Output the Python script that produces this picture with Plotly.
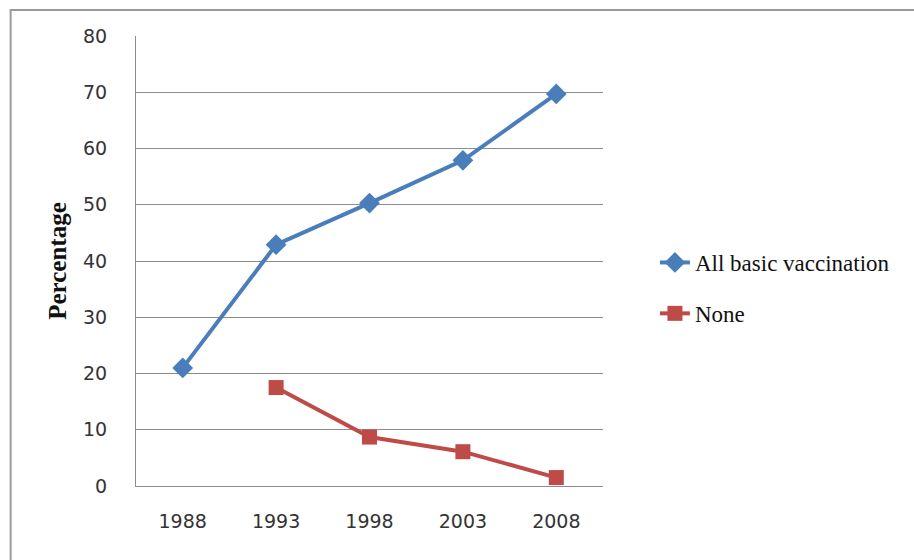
import plotly.graph_objects as go

# Survey years and vaccination coverage (%)
years = ["1988", "1993", "1998", "2003", "2008"]
all_basic = [21.0, 42.9, 50.3, 57.9, 69.7]
none_years = ["1993", "1998", "2003", "2008"]
none_vals = [17.5, 8.7, 6.1, 1.5]
y_ticks = [0, 10, 20, 30, 40, 50, 60, 70, 80]

BLUE = "#4a7ebb"
RED = "#be4b48"
GRID = "#8c8c8c"

fig = go.Figure()
fig.add_trace(go.Scatter(
    x=years, y=all_basic, name="All basic vaccination", mode="lines+markers",
    line=dict(color=BLUE, width=4),
    marker=dict(symbol="diamond", size=16, color=BLUE),
    legendgroup="a",
))
fig.add_trace(go.Scatter(
    x=none_years, y=none_vals, name="None", mode="lines+markers",
    line=dict(color=RED, width=4),
    marker=dict(symbol="square", size=15, color=RED),
    legendgroup="b",
))

# plot area in pixels
L, R, T, B = 135.5, 603, 36, 486
W, H = 914, 560
pw, ph = R - L, B - T

def px_x(x):
    return (x - L) / pw

def px_y(y):
    return (B - y) / ph

fig.update_layout(
    width=W, height=H,
    margin=dict(l=L, r=W - R, t=T, b=H - B, pad=0),
    paper_bgcolor="white", plot_bgcolor="white",
    showlegend=True,
    legend=dict(
        x=px_x(655), y=px_y(241), xanchor="left", yanchor="top",
        font=dict(family="Liberation Serif", size=23, color="#111"),
        tracegroupgap=18, itemwidth=30,
        bgcolor="rgba(0,0,0,0)",
    ),
    xaxis=dict(
        type="category", categoryorder="array", categoryarray=years,
        range=[-0.5, 4.5],
        showgrid=False, showline=True, linecolor=GRID, linewidth=1,
        ticks="", ticklabelstandoff=18,
        tickfont=dict(family="DejaVu Sans", size=19, color="#333"),
        zeroline=False, fixedrange=True,
    ),
    yaxis=dict(
        range=[0, 80], tickvals=y_ticks,
        showgrid=True, gridcolor=GRID, gridwidth=1,
        showline=True, linecolor=GRID, linewidth=1,
        ticks="", ticklabelstandoff=24,
        tickfont=dict(family="DejaVu Sans", size=19, color="#333"),
        zeroline=False, fixedrange=True,
        title=dict(text="<b>Percentage</b>", standoff=9,
                   font=dict(family="Liberation Serif", size=25, color="#111")),
    ),
    shapes=[dict(
        type="rect", xref="paper", yref="paper",
        x0=px_x(10), x1=px_x(930), y0=px_y(580), y1=px_y(10),
        line=dict(color="#9a9a9a", width=2), fillcolor="rgba(0,0,0,0)",
        layer="below",
    )],
)

fig.write_html("out.html")
